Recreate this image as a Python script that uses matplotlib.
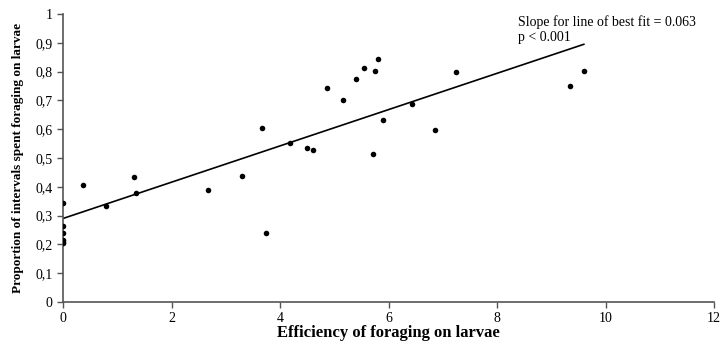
import numpy as np
import matplotlib
matplotlib.use('Agg')
import matplotlib.pyplot as plt
from matplotlib.ticker import FuncFormatter

# data
efficiency = [0, 0, 0, 0, 0, 0, 0.37, 0.79, 1.31, 1.35, 2.67, 3.30, 3.67, 3.74,
              4.18, 4.50, 4.61, 4.87, 5.16, 5.40, 5.55, 5.75, 5.81, 5.71, 5.90,
              6.43, 6.86, 7.24, 9.35, 9.60]
proportion = [0.344, 0.264, 0.240, 0.215, 0.210, 0.205, 0.406, 0.333, 0.434, 0.378,
              0.389, 0.437, 0.604, 0.240, 0.552, 0.535, 0.528, 0.743, 0.701, 0.774,
              0.812, 0.802, 0.844, 0.514, 0.632, 0.688, 0.597, 0.799, 0.750, 0.802]
slope = 0.063
intercept = 0.29
x_ticks = [0, 2, 4, 6, 8, 10, 12]
y_ticks = [0, 0.1, 0.2, 0.3, 0.4, 0.5, 0.6, 0.7, 0.8, 0.9, 1]

plt.rcParams['font.family'] = ['Liberation Serif', 'DejaVu Serif']

fig = plt.figure(figsize=(7.21, 3.54), dpi=100)
ax = fig.add_axes([63/721, 52/354, 651/721, 288/354])

ax.scatter(efficiency, proportion, s=16, color='black', zorder=3, linewidths=0)

line_x = np.array([0, max(efficiency)])
ax.plot(line_x, intercept + slope * line_x, color='black', lw=1.2)

ax.set_xlim(0, 12)
ax.set_ylim(0, 1)
ax.set_xticks(x_ticks)
ax.set_yticks(y_ticks)
ax.yaxis.set_major_formatter(FuncFormatter(
    lambda v, p: '0' if v == 0 else ('1' if v == 1 else ('%.1f' % v).replace('.', ','))))

for s in ['top', 'right']:
    ax.spines[s].set_visible(False)
for s in ['left', 'bottom']:
    ax.spines[s].set_color('#555555')
    ax.spines[s].set_linewidth(1.2)
ax.tick_params(axis='both', colors='#555555', labelcolor='black', labelsize=10,
               length=4, width=1)
ax.tick_params(axis='x', pad=3)

ax.set_xlabel('Efficiency of foraging on larvae', fontsize=12, fontweight='bold', labelpad=0)
ax.set_ylabel('Proportion of intervals spent foraging on larvae', fontsize=9.5,
              fontweight='bold', labelpad=8)

ax.text(8.39, 0.995, 'Slope for line of best fit = 0.063\np < 0.001', fontsize=10,
        va='top', ha='left', linespacing=1.15)

fig.savefig('out.png', dpi=100)
